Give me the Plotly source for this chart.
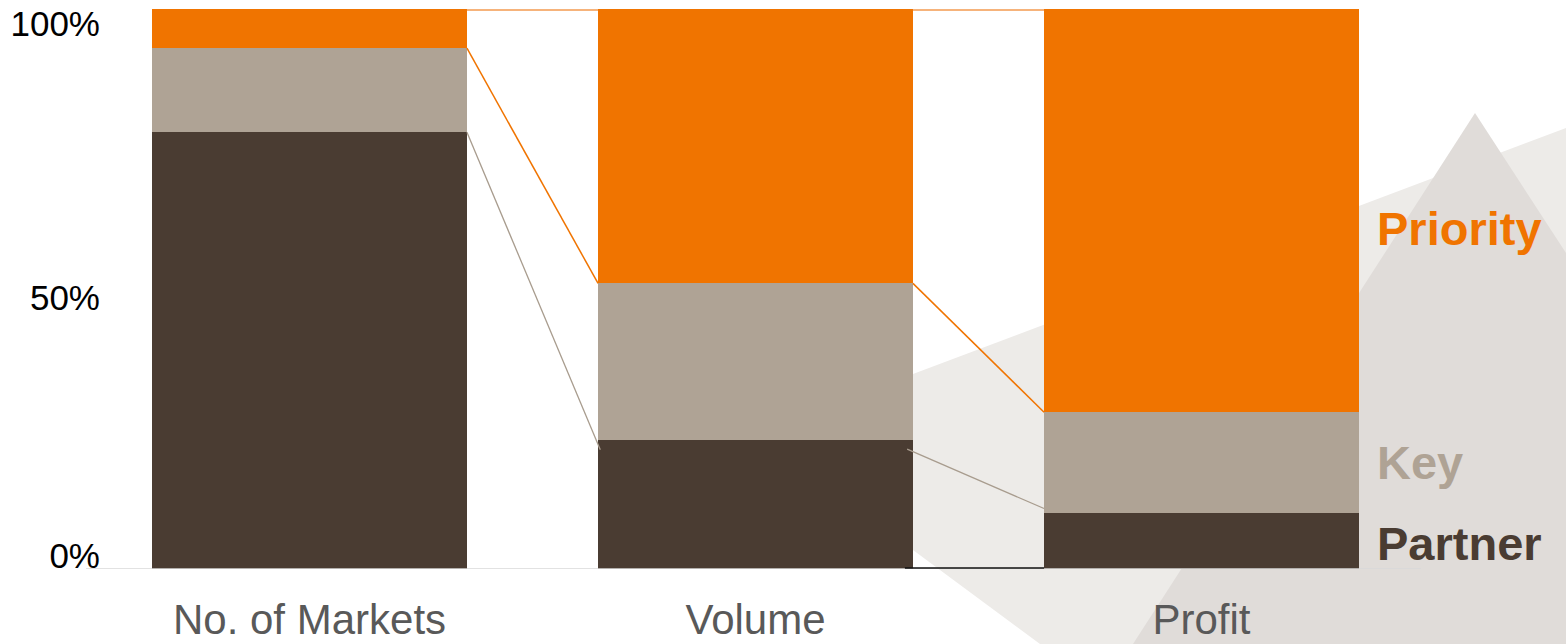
import plotly.graph_objects as go

# ---- data ----
categories = ["No. of Markets", "Volume", "Profit"]
partner = [78, 23, 10]
key = [15, 28, 18]
priority = [7, 49, 72]
series_names = ["Partner", "Key", "Priority"]
series_colors = ["#4a3c32", "#afa395", "#f07400"]

# where the thin grey "partner" links start / end (in %)
partner_link_levels = [(78, 21.3), (21.4, 10.8)]

# y tick labels and where they sit
ytick_text = ["0%", "50%", "100%"]
ytick_vals = [2.3, 48.5, 97.4]

# right-hand series labels: vertical positions (in %)
label_levels = {"Priority": 60.8, "Key": 19.0, "Partner": 4.5}

FONT = "Liberation Sans, Arial, sans-serif"
W, H = 1566, 644
L, R, T, B = 104, 145, 9, 75
PLOT_W = W - L - R
PLOT_H = H - T - B
BAR_W = 0.706
XRANGE = [-0.4608, 2.4922]

fig = go.Figure()
for name, vals, col in zip(series_names, [partner, key, priority], series_colors):
    fig.add_trace(go.Bar(
        x=list(range(len(categories))), y=vals, name=name, width=BAR_W,
        marker=dict(color=col, line=dict(width=0)), showlegend=False,
        hoverinfo="skip"))


def px_to_paper(px, py):
    return (px - L) / PLOT_W, (H - B - py) / PLOT_H


def poly(points, color):
    pts = [px_to_paper(*p) for p in points]
    path = "M " + " L ".join(f"{x:.5f},{y:.5f}" for x, y in pts) + " Z"
    return dict(type="path", xref="paper", yref="paper", path=path,
                fillcolor=color, line=dict(width=0), layer="below")


shapes = [
    poly([(913, 374), (1566, 128), (1566, 644), (1040, 644), (913, 550)], "#edebe8"),
    poly([(1475, 113), (1566, 253), (1566, 644), (1133, 644)], "#e0dcd9"),
]

# baseline
shapes.append(dict(type="line", xref="paper", yref="y",
                   x0=px_to_paper(86, 0)[0], x1=1, y0=0, y1=0,
                   line=dict(color="#d9d9d9", width=1.5), layer="above"))

half = BAR_W / 2
cum_pk = [p + k for p, k in zip(partner, key)]
totals = [p + k + q for p, k, q in zip(partner, key, priority)]
for i in range(len(categories) - 1):
    x0 = i + half
    x1 = i + 1 - half
    # top orange link
    shapes.append(dict(type="line", xref="x", yref="y", x0=x0, x1=x1,
                       y0=totals[i] - 0.2, y1=totals[i + 1] - 0.2,
                       line=dict(color="#f39a4f", width=1.5)))
    # orange link: top of Key
    shapes.append(dict(type="line", xref="x", yref="y", x0=x0, x1=x1,
                       y0=cum_pk[i], y1=cum_pk[i + 1],
                       line=dict(color="#f07400", width=1.5)))
    # grey link: top of Partner
    a, b = partner_link_levels[i]
    xs = x0 if i == 0 else x0 - 0.013
    shapes.append(dict(type="line", xref="x", yref="y", x0=xs, x1=x1 + (0.005 if i == 0 else 0),
                       y0=a, y1=b, line=dict(color="#a89c8e", width=1.3)))

# short black bottom line between Volume and Profit
shapes.append(dict(type="line", xref="x", yref="y", x0=1 + half - 0.018, x1=2 - half,
                   y0=0.2, y1=0.2, line=dict(color="#111111", width=1.5)))

annotations = []
for name, col in zip(series_names, series_colors):
    annotations.append(dict(
        x=2 + half + 0.036, xref="x", y=label_levels[name], yref="y",
        text=f"<b>{name}</b>", showarrow=False, xanchor="left", yanchor="middle",
        font=dict(family=FONT, size=47, color=col)))

fig.update_layout(
    width=W, height=H,
    margin=dict(l=L, r=R, t=T, b=B, pad=0),
    paper_bgcolor="white", plot_bgcolor="rgba(0,0,0,0)",
    barmode="stack", bargap=0,
    shapes=shapes, annotations=annotations,
    xaxis=dict(range=XRANGE, tickmode="array", tickvals=list(range(len(categories))),
               ticktext=categories, showgrid=False, zeroline=False, showline=False,
               ticks="", tickfont=dict(family=FONT, size=42, color="#595959"),
               ticklabelstandoff=22, automargin=False),
    yaxis=dict(range=[0, 100], tickmode="array", tickvals=ytick_vals, ticktext=ytick_text,
               showgrid=False, zeroline=False, showline=False, ticks="",
               tickfont=dict(family=FONT, size=35, color="#000000"),
               ticklabelstandoff=3, automargin=False),
)

fig.write_html("out.html")
